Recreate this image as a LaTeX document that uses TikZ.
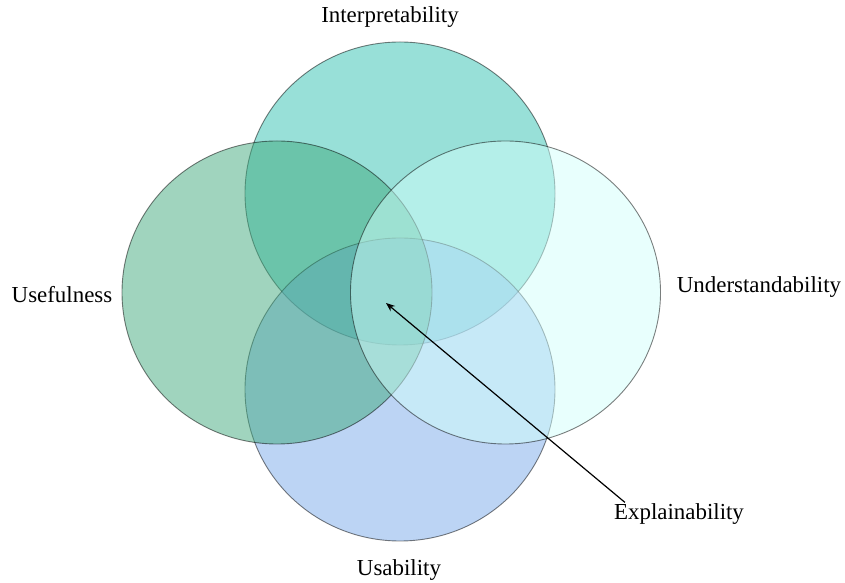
\documentclass[tikz,border=0pt]{standalone}
\usepackage{fontspec}
\setmainfont{Liberation Serif}
\usepackage{tikz}
\usetikzlibrary{shapes.geometric,arrows.meta,positioning}

\definecolor{interpc}{RGB}{49,193,177}
\definecolor{usefulc}{RGB}{65,169,125}
\definecolor{underc}{RGB}{209,255,251}
\definecolor{usabc}{RGB}{121,169,233}

\begin{document}
\begin{tikzpicture}[x=1bp,y=1bp,
  set/.style={draw=black,draw opacity=0.5,line width=0.9bp,ellipse,
    minimum width=310bp,minimum height=303bp,inner sep=0pt,outer sep=0pt,fill opacity=0.5},
  lbl/.style={font=\fontsize{23}{27}\selectfont,inner sep=1pt}]
\useasboundingbox (0,0) rectangle (845,583);
% the four sets
\node[set,fill=interpc](I) at (400,389.5) {};
\node[set,fill=usabc](S) at (400,193.5) {};
\node[set,fill=usefulc](F) at (277,290.5) {};
\node[set,fill=underc](U) at (505.5,290.5) {};
% names
\node[lbl](Ilab) at (390,566) {Interpretability};
\node[lbl](Flab) at (62,288) {Usefulness};
\node[lbl](Ulab) at (759,296) {Understandability};
\node[lbl](Slab) at (399,13) {Usability};
\node[lbl](E) at (679,69) {Explainability};
\coordinate (core) at (386,280);
\draw[line width=1.2bp,-{Stealth[length=9bp,width=7bp]}] ([xshift=12bp]E.north west) -- (core);
\end{tikzpicture}
\end{document}
